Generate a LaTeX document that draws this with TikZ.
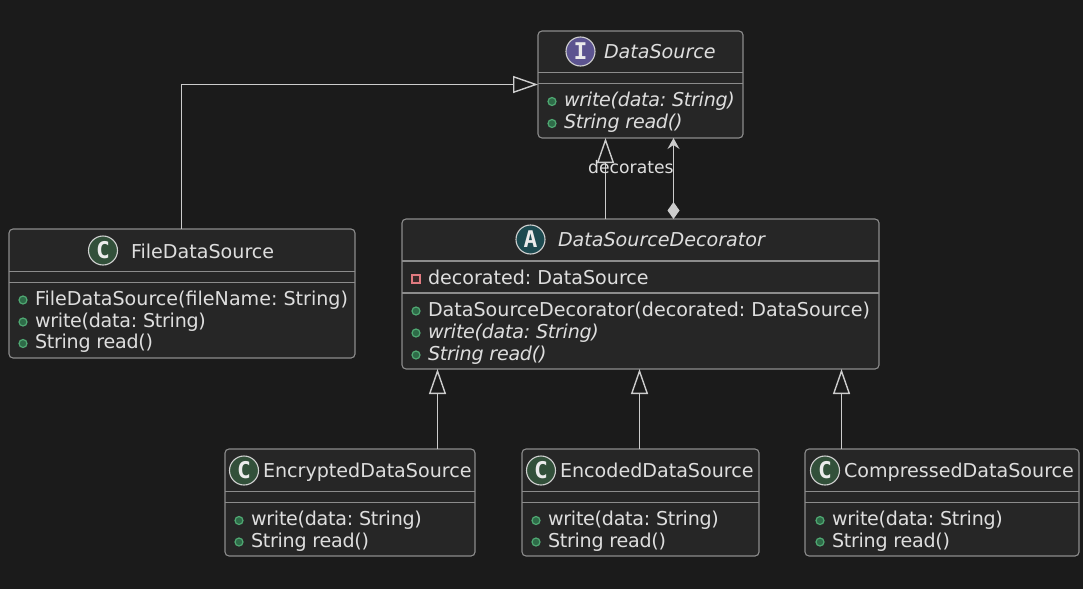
\documentclass[tikz,border=0pt]{standalone}
\usepackage{fontspec}
\setmainfont{DejaVu Sans}
\newfontfamily\iconfont{DejaVu Sans Mono}
\usetikzlibrary{arrows.meta}
\definecolor{bgc}{HTML}{1B1B1B}
\definecolor{boxc}{HTML}{262626}
\definecolor{edgec}{HTML}{8C8C8C}
\definecolor{linkc}{HTML}{CCCCCC}
\definecolor{textc}{HTML}{DEDEDE}
\definecolor{iconring}{HTML}{D0D0D0}
\definecolor{cicon}{HTML}{32503A}
\definecolor{aicon}{HTML}{1D4A50}
\definecolor{iicon}{HTML}{5C5490}
\definecolor{dotfill}{HTML}{2E6B48}
\definecolor{dotedge}{HTML}{4FA872}
\definecolor{privedge}{HTML}{E07A80}
\definecolor{privfill}{HTML}{3A2A2A}
\frenchspacing
\newcommand{\tight}{\addfontfeature{LetterSpace=-1.4}}
\tikzset{
  x=1pt,y=-1pt,
  classbox/.style={draw=edgec,fill=boxc,line width=1.1pt,rounded corners=4pt,inner sep=0pt,outer sep=0pt},
  sepline/.style={draw=edgec,line width=1.1pt},
  txt/.style={text=textc,font=\frenchspacing\fontsize{19.1}{22}\selectfont,anchor=base west,inner sep=0pt,outer sep=0pt},
  ttl/.style={txt},
  itl/.style={txt,font=\frenchspacing\fontsize{19.1}{22}\selectfont\itshape},
  tightm/.style={txt,font=\frenchspacing\fontsize{19.1}{22}\selectfont\tight},
  tighti/.style={txt,font=\frenchspacing\fontsize{19.1}{22}\selectfont\itshape\tight},
  lbl/.style={text=textc,font=\fontsize{17.2}{20}\selectfont,anchor=base west,inner sep=0pt},
  icon/.style={circle,draw=iconring,line width=1.1pt,minimum size=29pt,inner sep=0pt,text=textc!60!white,font=\iconfont\bfseries\fontsize{23}{23}\selectfont},
  pubdot/.style={circle,draw=dotedge,fill=dotfill,line width=1.2pt,minimum size=8pt,inner sep=0pt},
  privsq/.style={rectangle,draw=privedge,fill=privfill,line width=1.2pt,minimum size=8pt,inner sep=0pt},
  link/.style={draw=linkc,line width=1.4pt},
  inherit/.style={link,-{Triangle[open,length=25pt,width=17pt,fill=bgc]}},
  comp/.style={link,{Stealth[length=11pt,width=12pt,inset=4pt,fill=linkc]}-{Diamond[length=17pt,width=12pt,fill=linkc]}},
}
% name, x1, y1, x2, y2
\newcommand{\classnode}[5]{%
  \node[classbox,minimum width=#4pt-#2pt,minimum height=#5pt-#3pt] (#1) at ({(#2+#4)/2},{(#3+#5)/2}) {};
}
\newcommand{\sepat}[2]{% name, y
  \draw[sepline] (#1.west |- 0,#2) -- (#1.east |- 0,#2);
}
\begin{document}
\begin{tikzpicture}
\useasboundingbox (0,0) rectangle (1083,589);
\fill[bgc] (0,0) rectangle (1083,589);

% --- boxes
\classnode{ds}{538}{31}{743}{138}
\sepat{ds}{72.5}\sepat{ds}{83.5}
\node[icon,fill=iicon] (dsi) at (580.5,51.5) {I};
\node[itl] (dst) at (604,58) {DataSource};
\node[pubdot] (dsd1) at (552,101.5) {};
\node[pubdot] (dsd2) at (552,123.5) {};
\node[tighti] (dsm1) at (564,106) {write(data: String)};
\node[tighti] (dsm2) at (564,128) {String read()};

\classnode{fds}{9}{229}{355}{358}
\sepat{fds}{271.5}\sepat{fds}{282.5}
\node[icon,fill=cicon] (fdsi) at (103,250.5) {C};
\node[ttl] (fdst) at (131,258) {FileDataSource};
\node[pubdot] (fdsd1) at (23,300) {};
\node[pubdot] (fdsd2) at (23,322) {};
\node[pubdot] (fdsd3) at (23,343.5) {};
\node[txt] (fdsm1) at (35,305) {FileDataSource(fileName: String)};
\node[tightm] (fdsm2) at (35,327) {write(data: String)};
\node[tightm] (fdsm3) at (35,348.5) {String read()};

\classnode{dec}{402}{219}{879}{369}
\sepat{dec}{261}\sepat{dec}{293}
\node[icon,fill=aicon] (deci) at (530.5,239.5) {A};
\node[itl] (dect) at (558,246) {DataSourceDecorator};
\node[privsq] (decp) at (416,279) {};
\node[txt] (decf) at (428,284) {decorated: DataSource};
\node[pubdot] (decd1) at (416,311) {};
\node[pubdot] (decd2) at (416,333) {};
\node[pubdot] (decd3) at (416,355) {};
\node[txt] (decm1) at (428,316) {DataSourceDecorator(decorated: DataSource)};
\node[tighti] (decm2) at (428,338) {write(data: String)};
\node[tighti] (decm3) at (428,360) {String read()};

\classnode{enc}{225}{449}{475}{556}
\sepat{enc}{491.5}\sepat{enc}{502.5}
\node[icon,fill=cicon] (enci) at (244,470.5) {C};
\node[ttl] (enct) at (263,477) {EncryptedDataSource};
\node[pubdot] (encd1) at (239,520.5) {};
\node[pubdot] (encd2) at (239,542) {};
\node[tightm] (encm1) at (251,525) {write(data: String)};
\node[tightm] (encm2) at (251,547) {String read()};

\classnode{cod}{522}{449}{759}{556}
\sepat{cod}{491.5}\sepat{cod}{502.5}
\node[icon,fill=cicon] (codi) at (541,470.5) {C};
\node[ttl] (codt) at (560,477) {EncodedDataSource};
\node[pubdot] (codd1) at (536,520.5) {};
\node[pubdot] (codd2) at (536,542) {};
\node[tightm] (codm1) at (548,525) {write(data: String)};
\node[tightm] (codm2) at (548,547) {String read()};

\classnode{cmp}{805}{449}{1079}{556}
\sepat{cmp}{491.5}\sepat{cmp}{502.5}
\node[icon,fill=cicon] (cmpi) at (825,470.5) {C};
\node[ttl] (cmpt) at (844,477) {CompressedDataSource};
\node[pubdot] (cmpd1) at (820,520.5) {};
\node[pubdot] (cmpd2) at (820,542) {};
\node[tightm] (cmpm1) at (832,525) {write(data: String)};
\node[tightm] (cmpm2) at (832,547) {String read()};

% --- connectors
\draw[inherit] ([xshift=-.5pt]fds.north) |- (ds.west);
\draw[inherit] ([xshift=-35pt]dec.north) -- ([xshift=-35pt]dec.north |- ds.south);
\draw[comp] ([xshift=33pt]dec.north |- ds.south) -- ([xshift=33pt]dec.north);
\draw[inherit] ([xshift=87.5pt]enc.north) -- ([xshift=87.5pt]enc.north |- dec.south);
\draw[inherit] ([xshift=-1pt]cod.north) -- ([xshift=-1pt]cod.north |- dec.south);
\draw[inherit] ([xshift=-100.5pt]cmp.north) -- ([xshift=-100.5pt]cmp.north |- dec.south);

\node[lbl] (declbl) at (588,173) {decorates};
\end{tikzpicture}
\end{document}
